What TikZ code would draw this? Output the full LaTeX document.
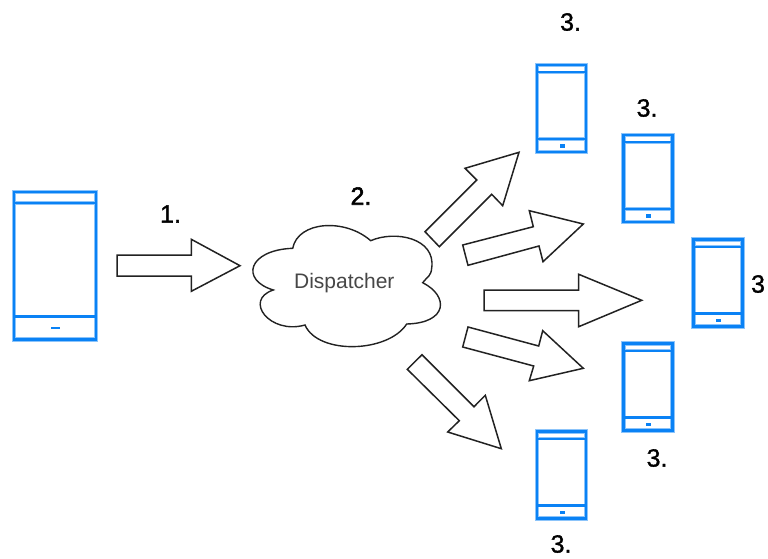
\documentclass[tikz,border=0pt]{standalone}
\usepackage{fontspec}
\setmainfont{Liberation Sans}
\definecolor{phoneblue}{HTML}{0A82F5}
\definecolor{phonehalo}{HTML}{8CC4FA}
\definecolor{inkline}{HTML}{222222}
\tikzset{
  block arrow/.style={draw=inkline,fill=white,line width=1.5pt,line join=miter},
  cloudshape/.style={draw=inkline,fill=white,line width=1.4pt},
  steplabel/.style={inner sep=0pt,font=\fontsize{25}{25}\selectfont\addfontfeature{FakeBold=1.2},text=black},
  cloudlabel/.style={inner sep=0pt,font=\fontsize{21}{21}\selectfont,text=black!72},
  pics/smallphone/.style={code={
    \draw[phonehalo,line width=4.4pt] (0,0) rectangle (49,87);
    \draw[phonehalo,line width=3.2pt] (0,7.2) -- (49,7.2) (0,74) -- (49,74);
    \draw[phoneblue,line width=2.5pt] (0,0) rectangle (49,87);
    \draw[phoneblue,line width=2.2pt] (0,7.2) -- (49,7.2) (0,74) -- (49,74);
    \fill[phoneblue] (22.8,79.4) rectangle (27.8,82.8);
  }}
}
\begin{document}
\begin{tikzpicture}[x=1pt,y=-1pt]
\useasboundingbox (0,0) rectangle (768,559);
% large phone
\draw[phonehalo,line width=4.2pt] (14,192) rectangle (96,339.5);
\draw[phonehalo,line width=3.2pt] (14,203) -- (96,203) (14,316.5) -- (96,316.5);
\draw[phoneblue,line width=2.8pt] (14,192) rectangle (96,339.5);
\draw[phoneblue,line width=2.2pt] (14,203) -- (96,203) (14,316.5) -- (96,316.5);
\fill[phoneblue] (51,326.8) rectangle (60,329.4);
% small phones
\pic at (536.8,65) {smallphone};
\pic at (623.5,135) {smallphone};
\pic at (693.5,239.5) {smallphone};
\pic at (623.5,343.5) {smallphone};
\pic at (536.8,431.5) {smallphone};
% block arrows
\draw[block arrow] (117,255) -- (117,276) -- (191.3,276) -- (191.3,291.3) -- (240,265.7) -- (191.3,239.3) -- (191.3,255) -- cycle;
\draw[block arrow] (425,231.7) -- (439.3,246.7) -- (491.7,194.3) -- (502.7,205.7) -- (519,152.3) -- (465,168.3) -- (476.7,180) -- cycle;
\draw[block arrow] (462.7,245) -- (468,265.3) -- (539,246) -- (543,261.7) -- (583.3,224) -- (529.3,210.7) -- (533.3,226.7) -- cycle;
\draw[block arrow] (484,290) -- (484,310.7) -- (578.7,310.7) -- (578.7,326.7) -- (641.7,300.3) -- (578.7,274.3) -- (578.7,290) -- cycle;
\draw[block arrow] (468,327) -- (462.7,347) -- (533.7,366) -- (529.3,380.7) -- (583.3,368.3) -- (542.7,330.7) -- (538.7,346) -- cycle;
\draw[block arrow] (422,354.7) -- (407.3,369.3) -- (459.3,420.7) -- (447.7,432) -- (501.3,448.7) -- (485.3,395.3) -- (474,406.7) -- cycle;
% cloud
\draw[cloudshape] (292.7,248.3)
  .. controls (298,221) and (345,218) .. (370.7,240.7)
  .. controls (395,230) and (436,238) .. (431.7,268)
  .. controls (431,276) and (428,276) .. (422.7,282.7)
  .. controls (449,296) and (448,323) .. (406.7,324)
  .. controls (388,353) and (318,355) .. (305,325)
  .. controls (270,335) and (243,300) .. (273.3,290)
  .. controls (240,280) and (248,250) .. (292.7,248.3) -- cycle;
\node[cloudlabel] (dispatcher) at (344.3,283) {Dispatcher};
% labels
\node[steplabel] (l1) at (170.5,214) {1.};
\node[steplabel] (l2) at (361,196) {\addfontfeature{FakeBold=2.2}2.};
\node[steplabel] (l3a) at (570.5,22) {3.};
\node[steplabel] (l3b) at (647,108) {3.};
\node[steplabel] (l3c) at (758,284) {3};
\node[steplabel] (l3d) at (657,458) {3.};
\node[steplabel] (l3e) at (561,544) {3.};
\end{tikzpicture}
\end{document}
